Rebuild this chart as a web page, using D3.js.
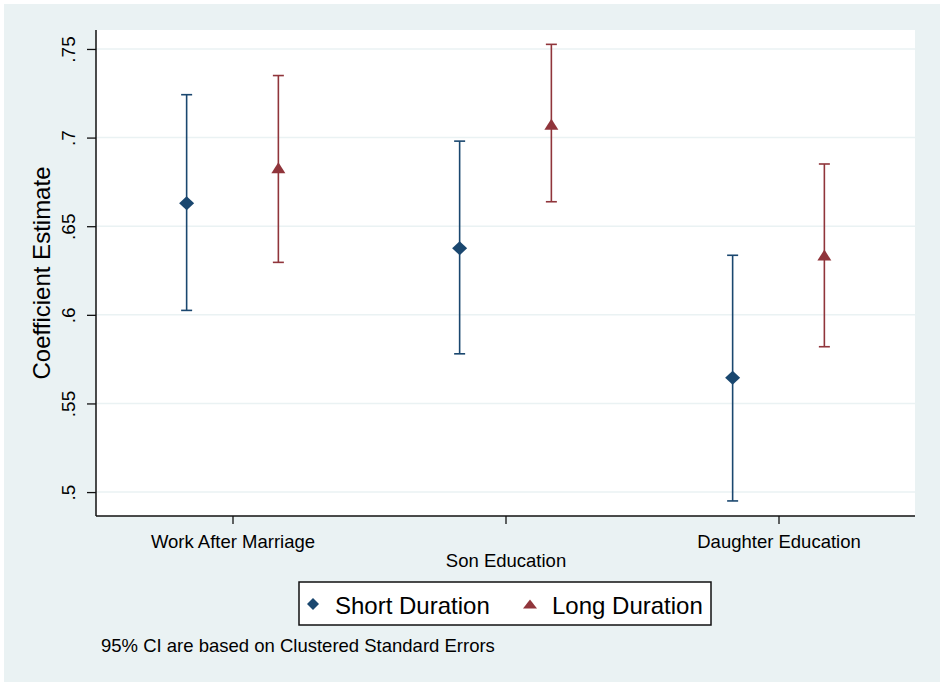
<!DOCTYPE html>
<html>
<head>
<meta charset="utf-8">
<script src="https://cdn.jsdelivr.net/npm/d3@7"></script>
<style>
	body { margin: 0; background: #ffffff; }
	svg text { font-family: Arial, "Liberation Sans", sans-serif; fill: #000; }
</style>
</head>
<body>
<div id="chart-area"></div>
<script>
// Values
var categories = ["Work After Marriage", "Son Education", "Daughter Education"];
var seriesNames = ["Short Duration", "Long Duration"];

var shortEst = [0.663, 0.6375, 0.5645];
var shortLo  = [0.6025, 0.578, 0.495];
var shortHi  = [0.7242, 0.698, 0.6336];

var longEst = [0.683, 0.7075, 0.6337];
var longLo  = [0.6296, 0.6638, 0.582];
var longHi  = [0.735, 0.7526, 0.6851];

var yTicks = [0.5, 0.55, 0.6, 0.65, 0.7, 0.75];
var yTickLabels = [".5", ".55", ".6", ".65", ".7", ".75"];

var noteText = "95% CI are based on Clustered Standard Errors";

/*
	Coefficient plot class
*/
class CoefPlot{

	constructor(_parentElement, _width, _height){
		this.parentElement = _parentElement;
		this.svgWidth = _width;
		this.svgHeight = _height;

		this.initializeChart();
	}

	initializeChart(){
		var vis = this;

		vis.margin = {top: 30, right: 25, bottom: 167, left: 96};
		vis.width = vis.svgWidth - vis.margin.left - vis.margin.right;
		vis.height = vis.svgHeight - vis.margin.top - vis.margin.bottom;

		vis.colors = ["#1a476f", "#90353b"];

		vis.svg = d3.select(vis.parentElement)
					.append("svg")
					.attr("width", vis.svgWidth)
					.attr("height", vis.svgHeight);

		// graph region background
		vis.svg.append("rect")
			.attr("x", 4).attr("y", 4)
			.attr("width", vis.svgWidth - 4).attr("height", vis.svgHeight - 5)
			.attr("fill", "#eaf2f3");

		vis.g = vis.svg.append("g")
				   .attr("transform", "translate(" + vis.margin.left + "," + vis.margin.top + ")");

		// plot region
		vis.g.append("rect")
			.attr("width", vis.width)
			.attr("height", vis.height)
			.attr("fill", "#ffffff");

		vis.xScale = d3.scaleLinear().domain([0.5, 3.5]).range([0, vis.width]);
		vis.yScale = d3.scaleLinear().domain([0.4865, 0.7607]).range([vis.height, 0]);

		vis.offset = 0.168;

		vis.wrangleData();
	}

	wrangleData(){
		var vis = this;

		vis.data = [];
		categories.forEach(function(c, i){
			vis.data.push({series: 0, pos: i + 1 - vis.offset, est: shortEst[i], lo: shortLo[i], hi: shortHi[i]});
			vis.data.push({series: 1, pos: i + 1 + vis.offset, est: longEst[i], lo: longLo[i], hi: longHi[i]});
		});

		vis.updateChart();
	}

	marker(series, w, h){
		if(series == 0){
			return "M0," + (-h) + "L" + w + ",0L0," + h + "L" + (-w) + ",0Z";
		}
		return "M0," + (-h) + "L" + w + "," + h + "L" + (-w) + "," + h + "Z";
	}

	updateChart(){
		var vis = this;

		// grid lines
		vis.g.append("g")
			.selectAll("line")
			.data(yTicks)
			.enter().append("line")
			.attr("x1", 0).attr("x2", vis.width)
			.attr("y1", d => vis.yScale(d)).attr("y2", d => vis.yScale(d))
			.attr("stroke", "#eaf2f3")
			.attr("stroke-width", 1.5);

		// y axis
		vis.yAxis = vis.g.append("g")
			.call(d3.axisLeft(vis.yScale).tickValues(yTicks).tickSize(9).tickPadding(0)
				.tickFormat((d, i) => yTickLabels[i]));
		vis.yAxis.select(".domain").attr("stroke", "#111").attr("stroke-width", 1.5)
			.attr("d", "M0,0V" + vis.height);
		vis.yAxis.selectAll(".tick line").attr("stroke", "#111").attr("stroke-width", 1.3);
		vis.yAxis.selectAll(".tick text")
			.attr("x", null).attr("dy", null)
			.attr("transform", "translate(-21,0) rotate(-90)")
			.attr("text-anchor", "middle")
			.style("font-size", "19px")
			.style("fill", "#000");

		// x axis
		vis.xAxis = vis.g.append("g")
			.attr("transform", "translate(0," + vis.height + ")")
			.call(d3.axisBottom(vis.xScale).tickValues([1, 2, 3]).tickSize(8).tickPadding(0)
				.tickFormat((d, i) => categories[i]));
		vis.xAxis.select(".domain").attr("stroke", "#111").attr("stroke-width", 1.5)
			.attr("d", "M0,0H" + vis.width);
		vis.xAxis.selectAll(".tick line").attr("stroke", "#111").attr("stroke-width", 1.3);
		vis.xAxis.selectAll(".tick text")
			.attr("dy", null)
			.attr("y", (d, i) => i == 1 ? 51 : 32)
			.style("font-size", "18.5px")
			.style("fill", "#000");

		// y axis title
		vis.svg.append("text")
			.attr("transform", "translate(50," + (vis.margin.top + vis.height / 2) + ") rotate(-90)")
			.attr("text-anchor", "middle")
			.style("font-size", "24px")
			.text("Coefficient Estimate");

		// error bars
		var bars = vis.g.selectAll(".ci").data(vis.data).enter().append("g").attr("class", "ci");

		bars.append("line")
			.attr("x1", d => vis.xScale(d.pos)).attr("x2", d => vis.xScale(d.pos))
			.attr("y1", d => vis.yScale(d.lo)).attr("y2", d => vis.yScale(d.hi))
			.attr("stroke", d => vis.colors[d.series])
			.attr("stroke-width", 1.6);

		["lo", "hi"].forEach(function(k){
			bars.append("line")
				.attr("x1", d => vis.xScale(d.pos) - 5.5).attr("x2", d => vis.xScale(d.pos) + 5.5)
				.attr("y1", d => vis.yScale(d[k])).attr("y2", d => vis.yScale(d[k]))
				.attr("stroke", d => vis.colors[d.series])
				.attr("stroke-width", 1.6);
		});

		bars.append("path")
			.attr("transform", d => "translate(" + vis.xScale(d.pos) + "," + vis.yScale(d.est) + ")")
			.attr("d", d => d.series == 0 ? vis.marker(0, 7.5, 7) : vis.marker(1, 7, 5.5))
			.attr("fill", d => vis.colors[d.series]);

		// legend
		var legend = vis.svg.append("g");
		legend.append("rect")
			.attr("x", 299).attr("y", 582)
			.attr("width", 412).attr("height", 43)
			.attr("fill", "#ffffff")
			.attr("stroke", "#111")
			.attr("stroke-width", 1.5);

		var legendX = [313, 530];
		seriesNames.forEach(function(name, i){
			legend.append("path")
				.attr("transform", "translate(" + legendX[i] + ",604)")
				.attr("d", i == 0 ? vis.marker(0, 6, 6) : vis.marker(1, 7, 4.5))
				.attr("fill", vis.colors[i]);
			legend.append("text")
				.attr("x", legendX[i] + 22)
				.attr("y", 614)
				.style("font-size", "24px")
				.text(name);
		});

		// note
		vis.svg.append("text")
			.attr("x", 101)
			.attr("y", 652)
			.style("font-size", "18.5px")
			.text(noteText);
	}

}

var chart = new CoefPlot("#chart-area", 940, 683);
</script>
</body>
</html>
